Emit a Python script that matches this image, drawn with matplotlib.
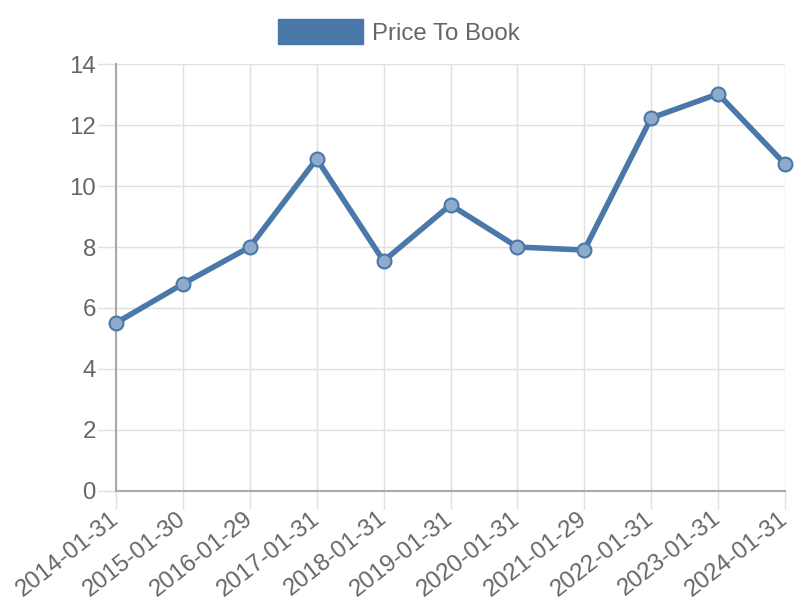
import matplotlib
matplotlib.use("Agg")
import matplotlib.pyplot as plt
from matplotlib.patches import Patch

dates = ["2014-01-31", "2015-01-30", "2016-01-29", "2017-01-31", "2018-01-31",
         "2019-01-31", "2020-01-31", "2021-01-29", "2022-01-31", "2023-01-31",
         "2024-01-31"]
price_to_book = [5.51, 6.79, 8.0, 10.89, 7.54, 9.38, 8.0, 7.90, 12.23, 13.02, 10.72]
y_ticks = [0, 2, 4, 6, 8, 10, 12, 14]
series_name = "Price To Book"

plt.rcParams['font.family'] = ['Liberation Sans', 'DejaVu Sans']
line_color = "#4A78A8"
text_color = "#666666"
grid_color = "#e0e0e0"
fs = 17.3

fig = plt.figure(figsize=(8, 6), dpi=100)
ax = fig.add_axes([0.145, 0.1817, 0.83625, 0.7116])

x = list(range(len(dates)))
ax.plot(x, price_to_book, color=line_color, linewidth=4, zorder=3,
        solid_joinstyle='round', clip_on=False)
ax.plot(x, price_to_book, linestyle='none', marker='o', markersize=10,
        markerfacecolor="#8fabcc", markeredgecolor=line_color, markeredgewidth=1.5,
        zorder=4, clip_on=False)

ax.set_xlim(0, len(dates) - 1)
ax.set_ylim(0, 14)
ax.set_yticks(y_ticks)
ax.set_xticks(x)
ax.set_xticklabels(dates, rotation=38, ha='right', va='center', rotation_mode='anchor')
ax.tick_params(axis='both', colors=grid_color, labelcolor=text_color, labelsize=fs,
               length=13, width=1)
ax.tick_params(axis='x', pad=5)
ax.tick_params(axis='y', pad=1.5)
ax.grid(True, color=grid_color, linewidth=1)
ax.set_axisbelow(True)
for s in ['top', 'right']:
    ax.spines[s].set_visible(False)
for s in ['left', 'bottom']:
    ax.spines[s].set_color("#aaaaaa")
    ax.spines[s].set_linewidth(1.5)
ax.get_xticklines()[0].set_color("#aaaaaa")
ax.get_yticklines()[0].set_color("#aaaaaa")

handle = Patch(facecolor=line_color, edgecolor=line_color)
fig.legend([handle], [series_name], loc='center', bbox_to_anchor=(0.4985, 0.947),
           frameon=False, fontsize=fs, labelcolor=text_color,
           handlelength=3.55, handleheight=1.25, handletextpad=0.37)

fig.savefig("out.png", dpi=100)
